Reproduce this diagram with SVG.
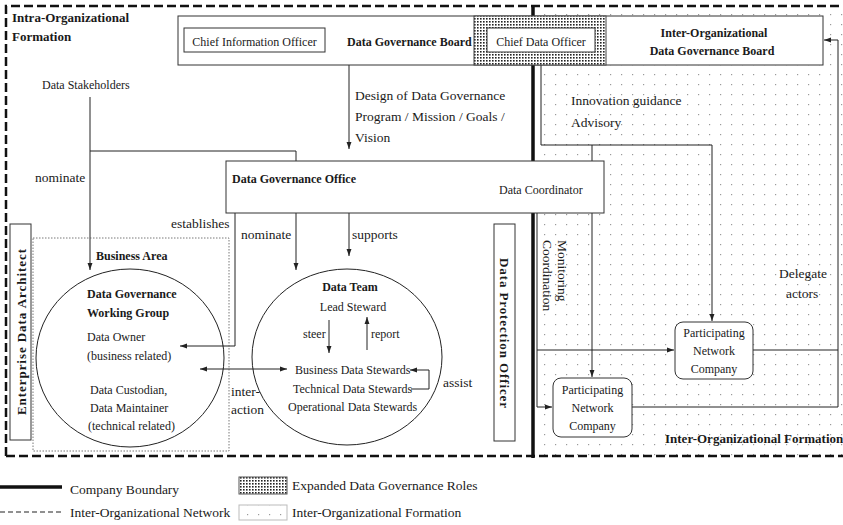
<svg xmlns="http://www.w3.org/2000/svg" width="843" height="525" viewBox="0 0 843 525">
<style>
text{font-family:"Liberation Serif","Times New Roman",serif;font-size:12px;fill:#1a1a1a}
.b{font-weight:bold}
.l{font-size:13.5px}
.m{text-anchor:middle}
.c{fill:none;stroke:#222;stroke-width:1}
.box{fill:#fff;stroke:#333;stroke-width:1}
</style>
<defs>
<pattern id="hatch" width="3" height="3" patternUnits="userSpaceOnUse"><rect width="3" height="3" fill="#fff"/><rect width="1.6" height="1.6" fill="#222"/></pattern>
<pattern id="dots" width="11" height="10" patternUnits="userSpaceOnUse"><rect x="5" y="4" width="1.2" height="1.2" fill="#9a9a9a"/></pattern>
<marker id="ah" viewBox="0 0 10 10" refX="10" refY="5" markerWidth="7" markerHeight="7" orient="auto-start-reverse"><path d="M0,1.5 L10,5 L0,8.5 z" fill="#222"/></marker>
</defs>
<rect width="843" height="525" fill="#fff"/>
<!-- inter-organizational formation area -->
<rect x="536" y="6" width="307" height="450" fill="url(#dots)"/>
<!-- boundaries -->
<g id="boundaries">
<path d="M6,456 V6 H843 M6,456 H843" fill="none" stroke="#111" stroke-width="2.5" stroke-dasharray="9 4"/>
<line x1="533" y1="5" x2="533" y2="458" stroke="#111" stroke-width="3.5"/>
</g>
<text class="b" x="12" y="22" style="font-size:13px">Intra-Organizational</text>
<text class="b" x="12" y="41" style="font-size:13px">Formation</text>
<text class="b" x="665" y="443" style="font-size:13px">Inter-Organizational Formation</text>
<!-- connectors -->
<g id="connectors">
<path class="c" d="M90,97 V270" marker-end="url(#ah)"/>
<path class="c" d="M90,151 H296 V161"/>
<path class="c" d="M349,65 V149" marker-end="url(#ah)"/>
<path class="c" d="M235,213 V346 H180" marker-end="url(#ah)"/>
<path class="c" d="M296,213 V270" marker-end="url(#ah)"/>
<path class="c" d="M349,213 V256" marker-end="url(#ah)"/>
<path class="c" d="M200,369 H287" marker-start="url(#ah)" marker-end="url(#ah)"/>
<path class="c" d="M329,320 V353" marker-end="url(#ah)"/>
<path class="c" d="M367,350 V317" marker-end="url(#ah)"/>
<path class="c" d="M411,389 H429 V370 H410" marker-end="url(#ah)"/>
<path class="c" d="M541,65 V145 H712 V321" marker-end="url(#ah)"/>
<path class="c" d="M592,145 V377" marker-end="url(#ah)"/>
<path class="c" d="M537,213 V407 H552" marker-end="url(#ah)"/>
<path class="c" d="M537,350 H674" marker-end="url(#ah)"/>
<path class="c" d="M632,407 H838 V40 H824" marker-end="url(#ah)"/>
<path class="c" d="M753,350 H838"/>
</g>
<!-- Data Governance Board -->
<g id="dg-board">
<rect x="178" y="16" width="645" height="49" class="box" stroke="#444"/>
<rect x="474" y="16" width="132" height="49" fill="url(#hatch)" stroke="#444"/>
<text class="b" x="347" y="45.5">Data Governance Board</text>
<text class="b m" x="714" y="36.5">Inter-Organizational</text>
<text class="b m" x="712" y="55">Data Governance Board</text>
</g>
<g id="cio"><rect x="184" y="28" width="141" height="24" class="box"/><text class="m" x="254.5" y="45.5">Chief Information Officer</text></g>
<g id="cdo"><rect x="487" y="28" width="108" height="24" class="box"/><text class="m" x="541" y="45.5">Chief Data Officer</text></g>
<!-- Data Governance Office -->
<g id="dg-office">
<rect x="226" y="161" width="378" height="52" class="box"/>
<text class="b" x="232" y="183">Data Governance Office</text>
<text x="499" y="194">Data Coordinator</text>
</g>
<g id="stakeholders"><text x="42" y="89">Data Stakeholders</text></g>
<!-- labels -->
<g id="labels">
<text class="l" x="355" y="100">Design of Data Governance</text>
<text class="l" x="355" y="121">Program / Mission / Goals /</text>
<text class="l" x="355" y="142">Vision</text>
<text class="l" x="35" y="182">nominate</text>
<text class="l" x="171" y="228">establishes</text>
<text class="l" x="241" y="239">nominate</text>
<text class="l" x="352" y="239">supports</text>
<text class="l" x="231" y="396">inter-</text>
<text class="l" x="231" y="414">action</text>
<text x="303" y="338">steer</text>
<text x="371" y="338">report</text>
<text class="l" x="443" y="387">assist</text>
<text class="l" x="571" y="105">Innovation guidance</text>
<text class="l" x="571" y="127">Advisory</text>
<text class="l" x="779" y="278">Delegate</text>
<text class="l" x="786" y="298">actors</text>
<text class="l" transform="translate(558,240) rotate(90)">Monitoring</text>
<text class="l" transform="translate(543,240) rotate(90)">Coordination</text>
</g>
<g id="enterprise-architect">
<rect x="10" y="224" width="21" height="216" class="box" stroke="#222"/>
<text class="b m" transform="translate(25.5,332) rotate(-90)" style="font-size:13px" textLength="166">Enterprise Data Architect</text>
</g>
<g id="business-area">
<rect x="33" y="238" width="196" height="213" fill="none" stroke="#555" stroke-width="0.8" stroke-dasharray="1.5 1.5"/>
<text class="b" x="96" y="260">Business Area</text>
</g>
<g id="working-group">
<ellipse cx="130" cy="358" rx="94" ry="89" fill="none" stroke="#222"/>
<text class="b" x="87" y="298">Data Governance</text>
<text class="b" x="87" y="317">Working Group</text>
<text x="87" y="341">Data Owner</text>
<text x="87" y="360">(business related)</text>
<text x="90" y="394">Data Custodian,</text>
<text x="90" y="412">Data Maintainer</text>
<text x="88" y="430">(technical related)</text>
</g>
<g id="data-team">
<ellipse cx="347" cy="357" rx="95" ry="88" fill="none" stroke="#222"/>
<text class="b m" x="350" y="291">Data Team</text>
<text class="m" x="353" y="311">Lead Steward</text>
<text x="295" y="374">Business Data Stewards</text>
<text x="293" y="393">Technical Data Stewards</text>
<text x="288" y="411">Operational Data Stewards</text>
</g>
<g id="dpo">
<rect x="494" y="224" width="21" height="217" class="box" stroke="#222"/>
<text class="b m" transform="translate(500,333) rotate(90)" style="font-size:13px" textLength="150">Data Protection Officer</text>
</g>
<g id="pnc1">
<rect x="675" y="322" width="78" height="57" rx="8" class="box"/>
<text class="m" x="714" y="337">Participating</text>
<text class="m" x="714" y="355">Network</text>
<text class="m" x="714" y="373">Company</text>
</g>
<g id="pnc2">
<rect x="553" y="378" width="79" height="59" rx="8" class="box"/>
<text class="m" x="592.5" y="394">Participating</text>
<text class="m" x="592.5" y="412">Network</text>
<text class="m" x="592.5" y="430">Company</text>
</g>
<!-- legend -->
<g id="legend">
<line x1="0" y1="487" x2="62" y2="487" stroke="#111" stroke-width="3.5"/>
<text class="l" x="70" y="494">Company Boundary</text>
<rect x="239" y="477" width="48" height="17" fill="url(#hatch)" stroke="#555"/>
<text class="l" x="292" y="490">Expanded Data Governance Roles</text>
<line x1="0" y1="512" x2="62" y2="512" stroke="#222" stroke-width="1.2" stroke-dasharray="5 3"/>
<text class="l" x="70" y="517">Inter-Organizational Network</text>
<rect x="239" y="505" width="48" height="15" fill="url(#dots)" stroke="#bbb"/>
<text class="l" x="292" y="517">Inter-Organizational Formation</text>
</g>
</svg>
